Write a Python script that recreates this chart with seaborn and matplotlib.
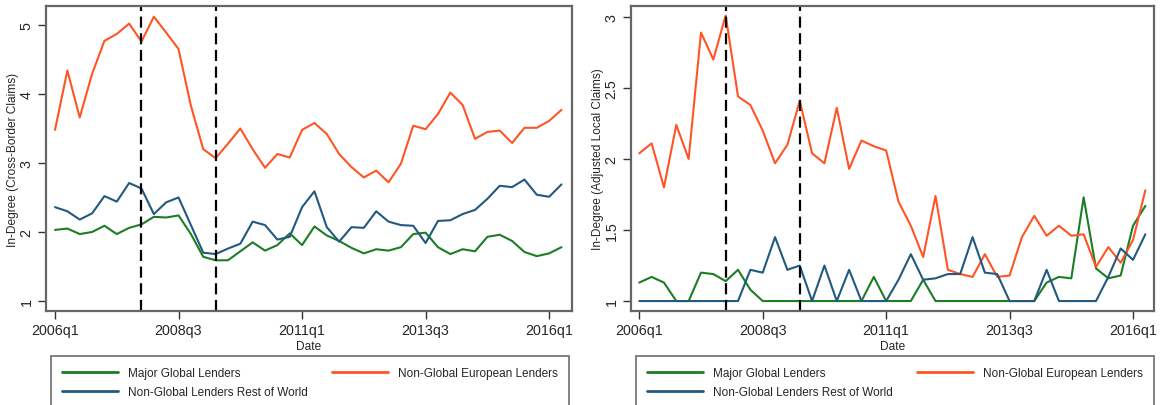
import seaborn as sns
import pandas as pd
import matplotlib.pyplot as plt

sns.set_style("white")
plt.rcParams['font.family'] = ['Liberation Sans', 'DejaVu Sans']

# quarters 2006q1 .. 2016q2
quarters = [f"{2006 + i // 4}q{i % 4 + 1}" for i in range(42)]
tick_labels = ["2006q1", "2008q3", "2011q1", "2013q3", "2016q1"]
crisis_quarters = ["2007q4", "2009q2"]

# cross-border claims
cb_major = [2.03, 2.05, 1.97, 2.00, 2.09, 1.97, 2.06, 2.11, 2.22, 2.21,
            2.24, 1.97, 1.64, 1.59, 1.59, 1.72, 1.85, 1.73, 1.81, 1.98,
            1.81, 2.08, 1.95, 1.87, 1.77, 1.69, 1.75, 1.73, 1.78, 1.97,
            1.99, 1.78, 1.68, 1.75, 1.72, 1.93, 1.96, 1.87, 1.71, 1.65,
            1.69, 1.78]
cb_europe = [3.48, 4.34, 3.66, 4.29, 4.77, 4.87, 5.02, 4.76, 5.12, 4.89,
             4.65, 3.83, 3.20, 3.07, 3.28, 3.50, 3.20, 2.93, 3.13, 3.08,
             3.48, 3.58, 3.42, 3.13, 2.94, 2.79, 2.89, 2.72, 2.99, 3.54,
             3.49, 3.71, 4.02, 3.84, 3.35, 3.45, 3.47, 3.29, 3.51, 3.51,
             3.61, 3.77]
cb_row = [2.36, 2.30, 2.18, 2.27, 2.52, 2.44, 2.71, 2.63, 2.26, 2.43,
          2.50, 2.10, 1.70, 1.68, 1.76, 1.83, 2.15, 2.10, 1.89, 1.93,
          2.36, 2.59, 2.07, 1.86, 2.07, 2.06, 2.30, 2.15, 2.10, 2.09,
          1.84, 2.16, 2.17, 2.26, 2.32, 2.48, 2.67, 2.65, 2.76, 2.54,
          2.51, 2.69]

# adjusted local claims
lc_major = [1.13, 1.17, 1.13, 1.00, 1.00, 1.20, 1.19, 1.14, 1.22, 1.08,
            1.00, 1.00, 1.00, 1.00, 1.00, 1.00, 1.00, 1.00, 1.00, 1.17,
            1.00, 1.00, 1.00, 1.15, 1.00, 1.00, 1.00, 1.00, 1.00, 1.00,
            1.00, 1.00, 1.00, 1.13, 1.17, 1.16, 1.73, 1.23, 1.16, 1.18,
            1.53, 1.67]
lc_europe = [2.04, 2.11, 1.80, 2.24, 2.00, 2.89, 2.70, 3.01, 2.44, 2.38,
             2.20, 1.97, 2.10, 2.41, 2.04, 1.97, 2.36, 1.93, 2.13, 2.09,
             2.06, 1.70, 1.53, 1.31, 1.74, 1.22, 1.19, 1.17, 1.33, 1.17,
             1.18, 1.45, 1.60, 1.46, 1.53, 1.46, 1.47, 1.24, 1.38, 1.27,
             1.43, 1.78]
lc_row = [1.00, 1.00, 1.00, 1.00, 1.00, 1.00, 1.00, 1.00, 1.00, 1.22,
          1.20, 1.45, 1.22, 1.25, 1.00, 1.25, 1.00, 1.22, 1.00, 1.00,
          1.00, 1.15, 1.33, 1.15, 1.16, 1.19, 1.19, 1.45, 1.20, 1.19,
          1.00, 1.00, 1.00, 1.22, 1.00, 1.00, 1.00, 1.00, 1.17, 1.37,
          1.29, 1.47]

groups = ["Major Global Lenders", "Non-Global European Lenders",
          "Non-Global Lenders Rest of World"]
palette = {groups[0]: "#1c7d24", groups[1]: "#ff5526", groups[2]: "#22597f"}


def long_frame(a, b, c):
    rows = []
    for g, vals in zip(groups, [a, b, c]):
        for i, v in enumerate(vals):
            rows.append({"q": i, "group": g, "value": v})
    return pd.DataFrame(rows)


df_cb = long_frame(cb_major, cb_europe, cb_row)
df_lc = long_frame(lc_major, lc_europe, lc_row)

fig = plt.figure(figsize=(11.62, 4.06), dpi=100)
W, H = 1162, 406
ax1 = fig.add_axes([46 / W, 1 - 312 / H, (572 - 46) / W, (312 - 7) / H])
ax2 = fig.add_axes([631 / W, 1 - 312 / H, (1154 - 631) / W, (312 - 7) / H])

panels = [
    (ax1, df_cb, "In-Degree (Cross-Border Claims)", [1, 2, 3, 4, 5], (0.855, 5.275), (-0.73, 41.85)),
    (ax2, df_lc, "In-Degree (Adjusted Local Claims)", [1, 1.5, 2, 2.5, 3], (0.93, 3.077), (-0.67, 41.7)),
]

for ax, df, ylabel, yt, ylim, xlim in panels:
    sns.lineplot(data=df, x="q", y="value", hue="group", palette=palette,
                 hue_order=groups, ax=ax, linewidth=1.5, legend=False)
    for cq in crisis_quarters:
        ax.axvline(quarters.index(cq), color="black", linestyle=(0, (5, 2.5)),
                   linewidth=1.6)
    ax.set_xlim(*xlim)
    ax.set_ylim(*ylim)
    ax.set_xticks([quarters.index(t) for t in tick_labels])
    ax.set_xticklabels(tick_labels, fontsize=10.3)
    ax.set_yticks(yt)
    ax.set_yticklabels([f"{t:g}" for t in yt], fontsize=10.3, rotation=90,
                       va="center")
    ax.set_ylabel(ylabel, fontsize=8.6)
    ax.yaxis.set_label_coords(-0.052, 0.5)
    ax.set_xlabel("Date", fontsize=8.6, labelpad=2)
    ax.tick_params(axis="both", direction="out", length=6, width=1,
                   color="#333333", pad=3, left=True, bottom=True)
    for s in ax.spines.values():
        s.set_color("#666666")
        s.set_linewidth(1.6)

    handles = [plt.Line2D([], [], color=palette[g], linewidth=2) for g in groups]
    order = [0, 2, 1]
    x0 = ax.get_position().x0 + 5 / W
    leg = fig.legend([handles[i] for i in order], [groups[i] for i in order],
                     loc="upper left", ncol=2,
                     bbox_to_anchor=(x0, 1 - 357 / H),
                     fontsize=8.5, frameon=True, fancybox=False,
                     handlelength=4.7, handletextpad=0.85, columnspacing=2.1,
                     borderpad=0.95, labelspacing=0.6, borderaxespad=0)
    leg.get_frame().set_edgecolor("#555555")
    leg.get_frame().set_linewidth(1.3)

fig.savefig("out.png", dpi=100)
